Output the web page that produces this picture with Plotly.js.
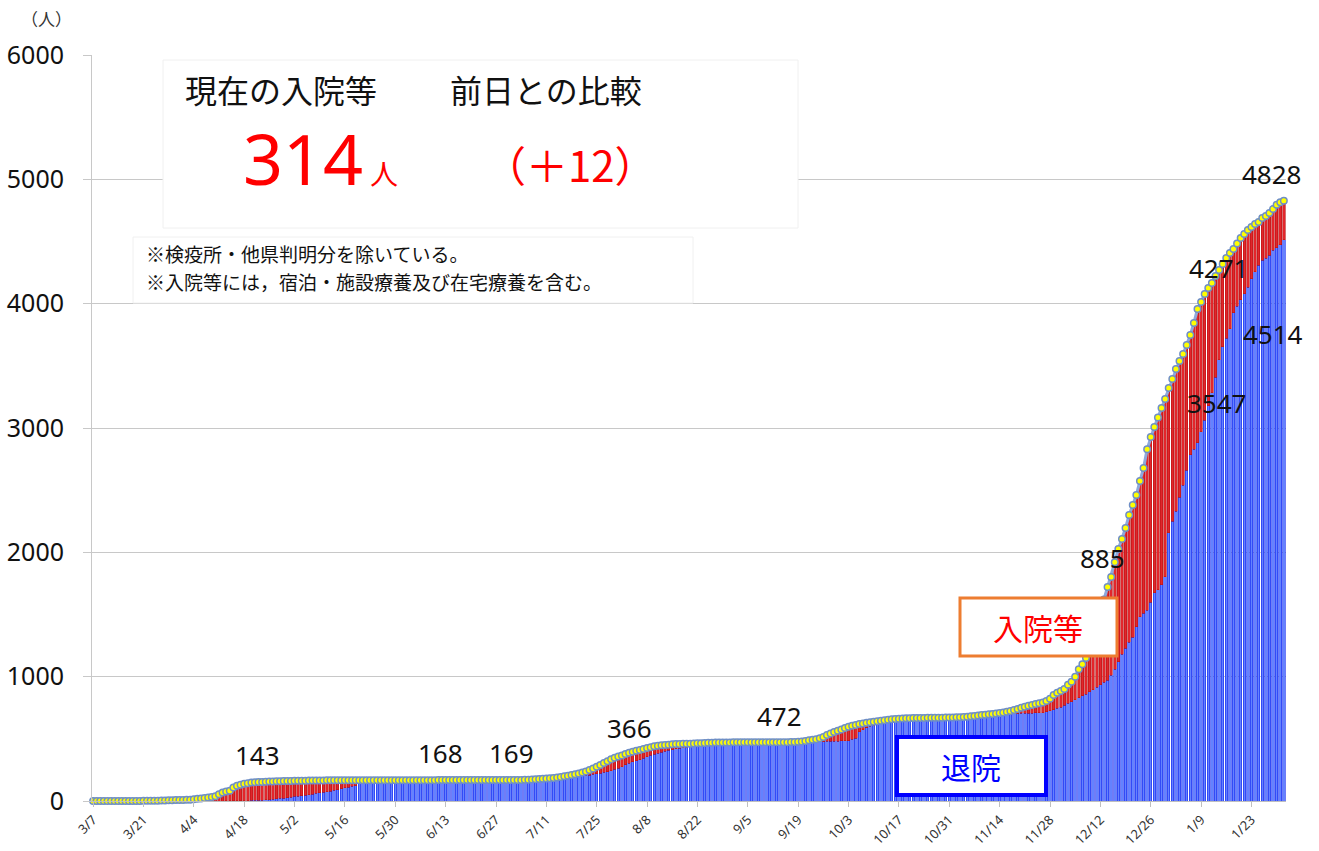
<!DOCTYPE html>
<html><head><meta charset="utf-8">
<script src="https://cdn.plot.ly/plotly-3.0.1.min.js"></script>
<style>html,body{margin:0;padding:0;background:#fff}</style>
</head><body>
<div id="chart" style="width:1319px;height:851px"></div>
<script>
// ---- data (daily, starting 2020-03-07) ----
const startDate = '2020-03-07';
// cumulative total (dots)
const total = [
  // Mar 7-31
  1,1,1,1,1,1,1,1,1,1,1,1,1,1,2,3,3,3,3,4,4,6,7,8,8,
  // Apr
  9,10,11,14,18,21,24,28,32,38,55,68,76,82,108,122,130,138,143,148,150,152,153,154,156,157,158,159,160,160,
  // May
  161,162,162,163,163,164,164,165,165,165,166,166,166,166,167,167,167,167,167,167,167,167,167,167,167,167,167,167,167,167,167,
  // Jun
  167,167,167,167,167,167,167,167,167,167,168,168,168,168,168,168,168,168,168,168,168,168,168,168,168,168,168,169,169,169,
  // Jul
  169,169,169,169,170,171,172,174,176,178,180,182,185,189,194,199,204,210,216,222,230,238,249,262,275,290,305,320,335,348,358,
  // Aug
  366,378,388,397,404,410,418,426,433,440,445,448,451,453,456,458,459,460,461,461,463,464,465,467,469,469,470,470,471,471,471,
  // Sep
  472,472,472,472,472,472,472,472,472,473,473,473,473,473,473,473,474,474,476,479,483,488,492,496,505,515,531,543,555,566,
  // Oct
  576,587,598,606,612,619,624,629,634,638,642,646,650,654,657,660,662,664,665,666,667,667,668,668,669,669,670,670,670,671,672,
  // Nov
  672,673,674,676,678,681,684,688,691,694,697,700,704,708,712,718,724,731,740,749,758,766,773,780,786,792,805,822,853,870,
  // Dec
  885,901,935,960,1000,1060,1100,1150,1230,1320,1420,1520,1620,1721,1802,1920,2027,2107,2196,2300,2381,2461,2574,2678,2830,2928,3008,3085,3161,3233,3322,
  // Jan
  3394,3475,3539,3595,3668,3748,3845,3957,4014,4078,4126,4166,4223,4271,4319,4367,4408,4440,4484,4528,4560,4593,4617,4641,4657,4689,4705,4729,4761,4795,4815,
  // Feb 1
  4828
];
// cumulative discharged (blue)
const discharged = [
  // Mar 7-31
  0,0,0,0,0,0,0,0,0,0,0,0,0,0,0,0,0,0,0,0,0,0,0,0,0,
  // Apr
  0,0,0,0,0,0,0,0,0,0,0,0,1,1,2,2,3,3,4,5,6,7,8,10,12,14,17,21,24,28,
  // May
  32,37,40,44,48,52,56,61,66,71,76,80,86,92,99,106,112,118,123,160,164,165,165,166,166,166,166,166,166,166,166,
  // Jun
  166,166,166,166,166,166,166,166,166,166,167,167,167,167,167,167,167,167,167,167,167,167,167,167,167,167,167,168,168,168,
  // Jul
  168,168,168,168,169,170,171,172,173,174,175,176,177,179,182,185,188,192,195,198,202,206,209,214,219,224,230,236,245,255,265,
  // Aug
  276,290,303,315,323,330,342,355,366,375,383,392,400,408,414,420,425,430,434,437,440,442,444,445,447,448,450,452,454,455,456,
  // Sep
  457,458,460,461,462,463,464,464,465,465,466,466,467,467,468,468,469,470,471,472,473,474,475,476,477,478,479,480,481,482,
  // Oct
  483,484,485,495,504,557,575,590,602,611,622,632,640,647,652,655,657,659,660,661,662,662,663,663,664,664,665,665,665,666,666,
  // Nov
  667,667,668,669,670,671,672,674,676,678,680,683,686,689,692,695,698,700,702,704,705,706,707,708,709,710,718,725,735,745,
  // Dec
  756,770,785,800,815,830,845,860,878,893,915,935,955,973,1010,1060,1120,1180,1230,1275,1319,1400,1480,1510,1536,1600,1673,1700,1740,1804,2156,
  // Jan
  2250,2330,2445,2540,2662,2783,2830,2880,2970,3064,3180,3282,3410,3547,3652,3720,3800,3925,3980,4030,4080,4134,4200,4255,4310,4351,4365,4390,4430,4448,4472,
  // Feb 1
  4514
];
const yTicks = [0,1000,2000,3000,4000,5000,6000];
const valueLabels = ['143','168','169','366','472','885','3547','4271','4514','4828'];
const headline = {title1:'現在の入院等', title2:'前日との比較', current:'314', unit:'人', diff:'（＋12）'};
const notes = ['※検疫所・他県判明分を除いている。','※入院等には，宿泊・施設療養及び在宅療養を含む。'];
const seriesNames = {hosp:'入院等', disc:'退院'};
const yUnit = '（人）';

// ---- derived ----
const t0 = Date.UTC(2020,2,7);
const dates = total.map((_, i) => new Date(t0 + i*864e5).toISOString().slice(0,10));
const hospitalized = total.map((v, i) => v - discharged[i]);

// ---- geometry helpers (pixel -> paper) ----
const L = 92, W = 1194, T = 55, H = 746;
const xp = px => (px - L) / W;
const yp = py => (T + H - py) / H;

const JP = 'Noto Sans CJK JP';
const NUM = 'Noto Sans, Liberation Sans, sans-serif';

function ann(text, px, py, size, color, family, xanchor) {
  return {text: text, x: xp(px), y: yp(py), xref: 'paper', yref: 'paper',
    showarrow: false, xanchor: xanchor || 'center', yanchor: 'middle',
    font: {size: size, color: color, family: family}};
}
function box(x0, y0, x1, y1, lineColor, lineWidth) {
  return {type: 'rect', xref: 'paper', yref: 'paper', layer: 'above',
    x0: xp(x0), x1: xp(x1), y0: yp(y1), y1: yp(y0),
    fillcolor: '#ffffff', line: {color: lineColor, width: lineWidth}};
}

const labelPos = [[257,755],[440,753],[511,753],[629,728],[779,716],[1102,558],[1217,403],[1219,268],[1273,334],[1272,174]];

const traces = [
  {type: 'bar', x: dates, y: discharged, name: seriesNames.disc,
   marker: {color: '#6482FF', line: {color: '#1026F0', width: 0.6}}},
  {type: 'bar', x: dates, y: hospitalized, name: seriesNames.hosp,
   marker: {color: '#E3262B', line: {color: '#B81414', width: 0.6}}},
  {type: 'scatter', mode: 'lines+markers', x: dates, y: total, cliponaxis: false,
   line: {color: '#8EA9DB', width: 3},
   marker: {color: '#FFFF00', size: 6.5, line: {color: '#6F8FC6', width: 1.5}}}
];

const annotations = [
  ann(yUnit, 46, 18, 17, '#333', JP),
  ann(headline.title1, 281, 89, 32, '#111', JP),
  ann(headline.title2, 546, 89, 32, '#111', JP),
  ann(headline.current, 303, 158, 70, '#FF0000', NUM),
  ann(headline.unit, 384, 173, 28, '#FF0000', JP),
  ann(headline.diff, 570, 163, 42, '#FF0000', JP),
  ann(notes[0], 144, 254, 19, '#111', JP, 'left'),
  ann(notes[1], 144, 281, 19, '#111', JP, 'left'),
  ann(seriesNames.hosp, 1038, 627, 30, '#FF0000', JP),
  ann(seriesNames.disc, 971, 766, 30, '#0000FF', JP)
];
valueLabels.forEach((t, i) => annotations.push(ann(t, labelPos[i][0], labelPos[i][1], 26, '#111', NUM)));

const layout = {
  width: 1319, height: 851,
  margin: {l: L, r: 1319 - L - W, t: T, b: 851 - T - H},
  paper_bgcolor: '#fff', plot_bgcolor: '#fff',
  showlegend: false, barmode: 'stack', bargap: 0.3,
  xaxis: {type: 'date', range: ['2020-03-06 16:48', '2021-02-01 14:24'],
    tick0: '2020-03-07', dtick: 14*864e5, tickformat: '%-m/%-d', tickangle: -45,
    ticks: 'outside', ticklen: 5, tickcolor: '#bfbfbf', showgrid: false,
    showline: true, linecolor: '#bfbfbf', linewidth: 1,
    tickfont: {size: 13, color: '#333', family: NUM}},
  yaxis: {range: [0, 6000], tickvals: yTicks, ticktext: yTicks.map(String),
    showgrid: true, gridcolor: '#c8c8c8', gridwidth: 1,
    showline: true, linecolor: '#c8c8c8', zeroline: false,
    ticks: 'outside', ticklen: 8, tickcolor: '#c8c8c8', ticklabelstandoff: 14,
    tickfont: {size: 25, color: '#111', family: NUM}},
  shapes: [
    box(163, 60, 798, 228, '#f0f0f0', 1),
    box(133, 237, 693, 303, '#f0f0f0', 1),
    box(960, 598, 1117, 656, '#ED7D31', 3),
    box(897, 737, 1046, 795, '#0000FF', 4)
  ],
  annotations: annotations
};

Plotly.newPlot('chart', traces, layout, {displayModeBar: false, staticPlot: true});
</script>
</body></html>
